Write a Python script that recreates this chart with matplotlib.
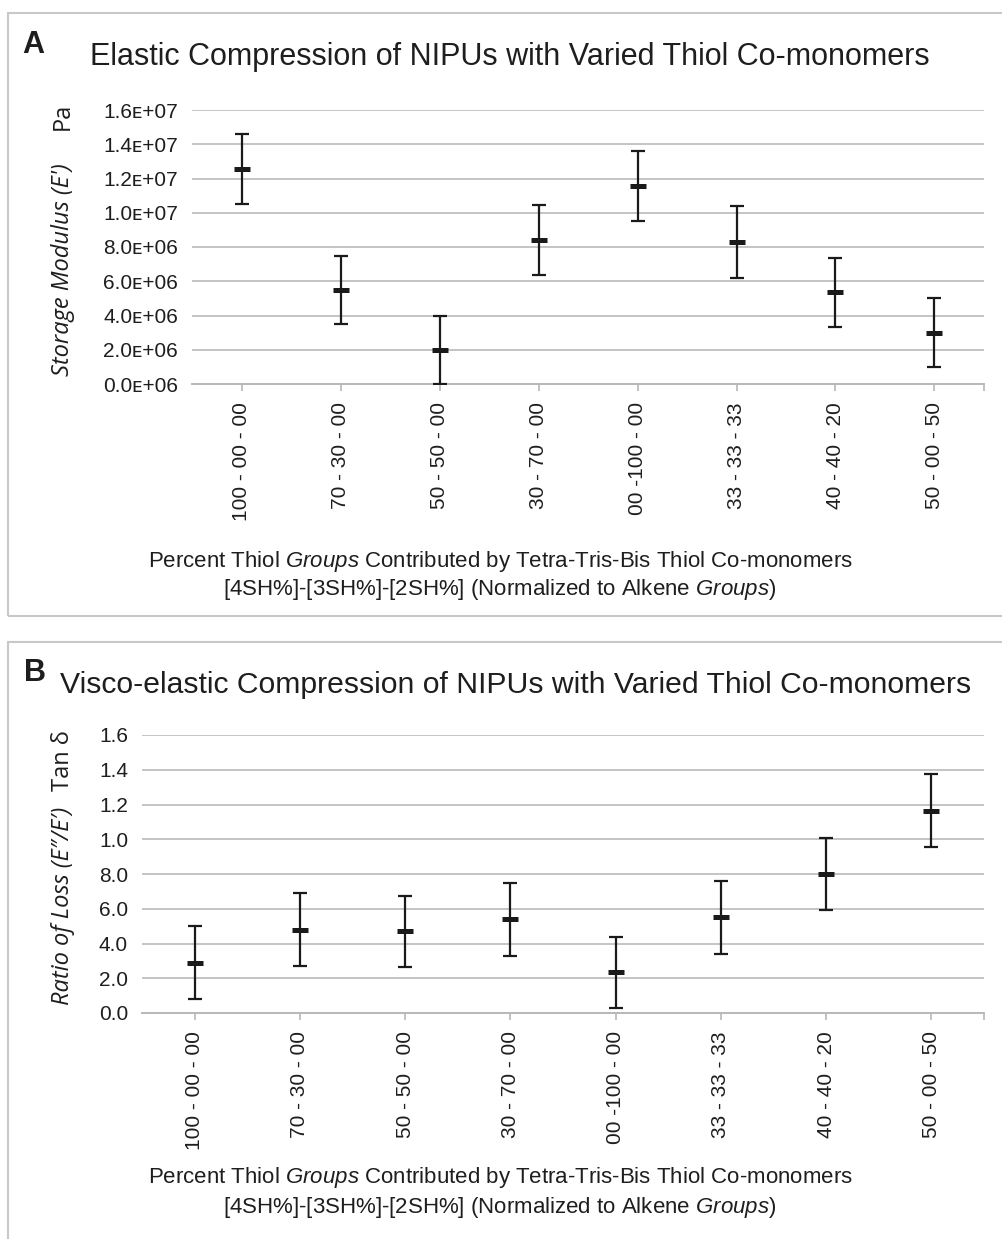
import numpy as np
import matplotlib
matplotlib.use("Agg")
from matplotlib import pyplot as plt
from matplotlib.patches import Rectangle

plt.rcParams['font.family'] = ['Liberation Sans', 'DejaVu Sans']
plt.rcParams['mathtext.fontset'] = 'custom'
plt.rcParams['mathtext.rm'] = 'Liberation Sans'
plt.rcParams['mathtext.it'] = 'Liberation Sans:italic'

# data
categories = ['100 - 00 - 00', '70 - 30 - 00', '50 - 50 - 00', '30 - 70 - 00',
              '00 -100 - 00', '33 - 33 - 33', '40 - 40 - 20', '50 - 00 - 50']

storage_modulus = [12.55e6, 5.5e6, 2.0e6, 8.4e6, 11.55e6, 8.3e6, 5.35e6, 3.0e6]
storage_err = [2.05e6, 2.0e6, 2.0e6, 2.05e6, 2.05e6, 2.1e6, 2.0e6, 2.0e6]

tan_delta = [0.29, 0.48, 0.47, 0.54, 0.235, 0.55, 0.80, 1.165]
tan_err = [0.21, 0.21, 0.205, 0.21, 0.205, 0.21, 0.205, 0.21]

a_ticks = [0, 2e6, 4e6, 6e6, 8e6, 10e6, 12e6, 14e6, 16e6]
a_ticklabels = ['0.0\u1d07+06', '2.0\u1d07+06', '4.0\u1d07+06', '6.0\u1d07+06', '8.0\u1d07+06',
                '1.0\u1d07+07', '1.2\u1d07+07', '1.4\u1d07+07', '1.6\u1d07+07']
b_ticks = [0, 0.2, 0.4, 0.6, 0.8, 1.0, 1.2, 1.4, 1.6]
b_ticklabels = ['0.0', '2.0', '4.0', '6.0', '8.0', '1.0', '1.2', '1.4', '1.6']

W, H = 1003, 1239
fig = plt.figure(figsize=(W / 100, H / 100), dpi=100)

def fx(px):
    return px / W

def fy(py):
    return 1 - py / H

txt = '#1e1e1e'
grid_c = '#c4c4c4'

# panel frames
for top, bottom in [(13, 616), (642, 1260)]:
    fig.patches.append(Rectangle((fx(8), fy(bottom)), fx(1010) - fx(8), fy(top) - fy(bottom),
                                 transform=fig.transFigure, fill=False,
                                 edgecolor='#c8c8c8', linewidth=1.5))


def draw_panel(rect, values, errs, ticks, ticklabels, ymax):
    ax = fig.add_axes(rect)
    x = np.arange(len(categories))
    ax.set_xlim(-0.5, len(categories) - 0.5)
    ax.set_ylim(0, ymax)
    for t in ticks[1:]:
        ax.axhline(t, color=grid_c, linewidth=1.4, zorder=1)
    ax.errorbar(x, values, yerr=errs, fmt='none', ecolor='#1a1a1a',
                elinewidth=1.6, capsize=4.8, capthick=1.6, zorder=3)
    ax.plot(x, values, linestyle='none', marker='_', color='#1a1a1a',
            markersize=12, mew=3.6, zorder=4)
    for s in ['top', 'right', 'left']:
        ax.spines[s].set_visible(False)
    ax.spines['bottom'].set_color('#b8b8b8')
    ax.spines['bottom'].set_linewidth(1.4)
    ax.set_xticks(x)
    ax.set_xticklabels(categories, rotation=90, fontsize=15, color=txt)
    ax.set_xticks([len(categories) - 0.5], minor=True)
    ax.tick_params(axis='x', which='both', length=5, color='#b8b8b8', width=1.2, pad=8)
    ax.set_yticks(ticks)
    ax.set_yticklabels(ticklabels, fontsize=15, color=txt,
                       fontfamily=['Liberation Sans', 'DejaVu Sans'])
    ax.tick_params(axis='y', length=0, pad=10)
    return ax


xlabel1 = r'Percent Thiol $\mathit{Groups}$ Contributed by Tetra-Tris-Bis Thiol Co-monomers'
xlabel2 = r'[4SH%]-[3SH%]-[2SH%] (Normalized to Alkene $\mathit{Groups}$)'

# panel A
draw_panel([fx(192), fy(384), fx(984) - fx(192), fy(110) - fy(384)],
           storage_modulus, storage_err, a_ticks, a_ticklabels, 16e6)
fig.text(fx(22), fy(53), 'A', fontsize=22, fontweight='bold', color=txt)
fig.text(fx(90), fy(65), 'Elastic Compression of NIPUs with Varied Thiol Co-monomers',
         fontsize=22, color=txt)
fig.text(fx(63), fy(270), "Storage Modulus (E')", rotation=90, fontsize=17,
         style='italic', family='Open Sans', ha='center', va='center', color=txt)
fig.text(fx(63), fy(116), 'Pa', rotation=90, fontsize=17,
         family='Open Sans', ha='center', va='center', color=txt)
fig.text(fx(500), fy(561), xlabel1, fontsize=16, ha='center', va='center', color=txt)
fig.text(fx(500), fy(590), xlabel2, fontsize=16, ha='center', va='center', color=txt)

# panel B
draw_panel([fx(142), fy(1013), fx(984) - fx(142), fy(735) - fy(1013)],
           tan_delta, tan_err, b_ticks, b_ticklabels, 1.6)
fig.text(fx(24), fy(681), 'B', fontsize=22, fontweight='bold', color=txt)
fig.text(fx(60), fy(693), 'Visco-elastic Compression of NIPUs with Varied Thiol Co-monomers',
         fontsize=21.7, color=txt)
fig.text(fx(63), fy(906), 'Ratio of Loss (E\u2033/E\u2032)', rotation=90, fontsize=17,
         style='italic', family='Open Sans', ha='center', va='center', color=txt)
fig.text(fx(63), fy(761), 'Tan \u03b4', rotation=90, fontsize=17,
         family='Open Sans', ha='center', va='center', color=txt)
fig.text(fx(500), fy(1178), xlabel1, fontsize=16, ha='center', va='center', color=txt)
fig.text(fx(500), fy(1207), xlabel2, fontsize=16, ha='center', va='center', color=txt)

fig.savefig('out.png', dpi=100)
